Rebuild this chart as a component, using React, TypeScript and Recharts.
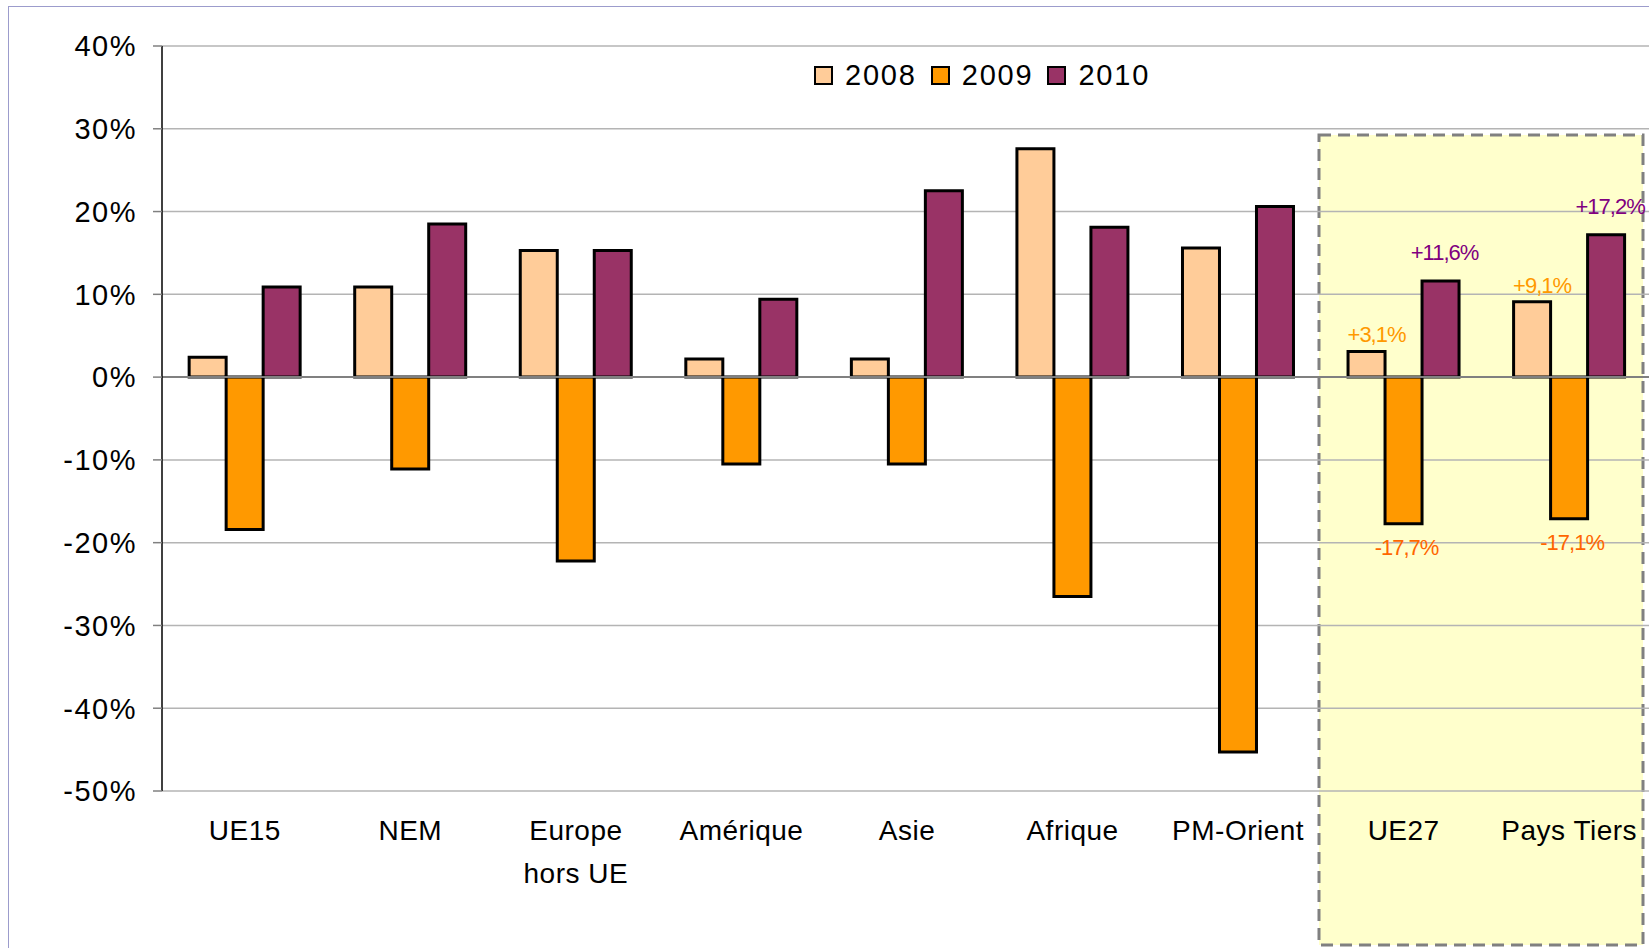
import {
  BarChart, Bar, XAxis, YAxis, CartesianGrid, ReferenceLine, LabelList,
} from 'recharts';

const categories = ['UE15', 'NEM', 'Europe\nhors UE', 'Amérique', 'Asie', 'Afrique', 'PM-Orient', 'UE27', 'Pays Tiers'];
const values2008 = [2.4, 10.9, 15.3, 2.2, 2.2, 27.6, 15.6, 3.1, 9.1];
const values2009 = [-18.4, -11.1, -22.2, -10.5, -10.5, -26.5, -45.3, -17.7, -17.1];
const values2010 = [10.9, 18.5, 15.3, 9.4, 22.5, 18.1, 20.6, 11.6, 17.2];
// only the two aggregate groups carry labels
const labels2008 = ['', '', '', '', '', '', '', '+3,1%', '+9,1%'];
const labels2009 = ['', '', '', '', '', '', '', '-17,7%', '-17,1%'];
const labels2010 = ['', '', '', '', '', '', '', '+11,6%', '+17,2%'];
const yTicks = [-50, -40, -30, -20, -10, 0, 10, 20, 30, 40];

const FONT = '"Liberation Sans", Arial, sans-serif';
const COLORS = { y2008: '#FFCC99', y2009: '#FF9900', y2010: '#993366' };

const data = categories.map((name, i) => ({
  name,
  y2008: values2008[i],
  y2009: values2009[i],
  y2010: values2010[i],
  l2008: labels2008[i],
  l2009: labels2009[i],
  l2010: labels2010[i],
}));

const CatTick = (props: any) => {
  const { x, y, payload } = props;
  const lines = String(payload.value).split('\n');
  return (
    <text x={x} y={y + 49} textAnchor="middle" fontSize={28} fill="#000" fontFamily={FONT} letterSpacing={0.5}>
      {lines.map((l, i) => (
        <tspan key={i} x={x} dy={i === 0 ? 0 : 43}>{l}</tspan>
      ))}
    </text>
  );
};

const makeLabel = (color: string, dx: number, above: boolean, gap: number) => (props: any) => {
  const { x, y, width, height, value } = props;
  if (!value) return null;
  const top = Math.min(y, y + height);
  const bottom = Math.max(y, y + height);
  return (
    <text
      x={x + width / 2 + dx}
      y={above ? top - gap : bottom + gap}
      textAnchor="middle"
      fontSize={22}
      fill={color}
      fontFamily={FONT}
      letterSpacing={-1}
    >
      {value}
    </text>
  );
};

const legendItems = [
  { label: '2008', color: COLORS.y2008 },
  { label: '2009', color: COLORS.y2009 },
  { label: '2010', color: COLORS.y2010 },
];

export default function App() {
  return (
    <div style={{ position: 'absolute', left: 0, top: 0, width: 1649, height: 948, overflow: 'hidden', background: '#fff' }}>
      {/* outer frame */}
      <div style={{ position: 'absolute', left: 8, top: 6, width: 1700, height: 1000, borderLeft: '1.5px solid #9c9ccc', borderTop: '1.5px solid #9c9ccc' }} />

      {/* highlighted zone behind UE27 / Pays Tiers */}
      <svg style={{ position: 'absolute', left: 0, top: 0 }} width={1649} height={948}>
        <rect x={1319} y={135} width={324} height={810} fill="#FFFFCC" stroke="#808080" strokeWidth={3} strokeDasharray="12 7" />
      </svg>

      <div style={{ position: 'absolute', left: 0, top: 0 }}>
        <BarChart
          width={1660}
          height={948}
          data={data}
          margin={{ top: 46, right: 8, left: 0, bottom: 127 }}
          barCategoryGap="16.4%"
          barGap={0}
        >
          <CartesianGrid vertical={false} stroke="#b4b4b4" strokeWidth={1.5} />
          <XAxis
            dataKey="name"
            height={30}
            axisLine={false}
            tickLine={false}
            tickSize={0}
            tickMargin={0}
            interval={0}
            tick={<CatTick />}
          />
          <YAxis
            width={162}
            domain={[-50, 40]}
            ticks={yTicks}
            interval={0}
            tickFormatter={(v: number) => `${v}%`}
            axisLine={{ stroke: '#000', strokeWidth: 1.5 }}
            tickLine={{ stroke: '#808080', strokeWidth: 1.5 }}
            tickSize={9}
            tickMargin={16}
            tick={{ fill: '#000', fontSize: 29, fontFamily: FONT, letterSpacing: 1.5 }}
          />
          <ReferenceLine y={0} stroke="#808080" strokeWidth={2} />
          <Bar dataKey="y2008" fill={COLORS.y2008} stroke="#000" strokeWidth={3} isAnimationActive={false}>
            <LabelList dataKey="l2008" content={makeLabel('#FF9900', 10, true, 9)} />
          </Bar>
          <Bar dataKey="y2009" fill={COLORS.y2009} stroke="#000" strokeWidth={3} isAnimationActive={false}>
            <LabelList dataKey="l2009" content={makeLabel('#FF6600', 3, false, 31)} />
          </Bar>
          <Bar dataKey="y2010" fill={COLORS.y2010} stroke="#000" strokeWidth={3} isAnimationActive={false}>
            <LabelList dataKey="l2010" content={makeLabel('#800080', 4, true, 21)} />
          </Bar>
        </BarChart>
      </div>

      {/* legend */}
      <div style={{ position: 'absolute', left: 814, top: 59, display: 'flex', alignItems: 'center', fontFamily: FONT, fontSize: 29, letterSpacing: 1.8, color: '#000' }}>
        {legendItems.map((it, i) => (
          <div key={it.label} style={{ display: 'flex', alignItems: 'center', marginRight: i < 2 ? 14 : 0 }}>
            <span style={{ width: 15, height: 15, background: it.color, border: '2.5px solid #000', display: 'inline-block', marginRight: 12 }} />
            <span>{it.label}</span>
          </div>
        ))}
      </div>
    </div>
  );
}
